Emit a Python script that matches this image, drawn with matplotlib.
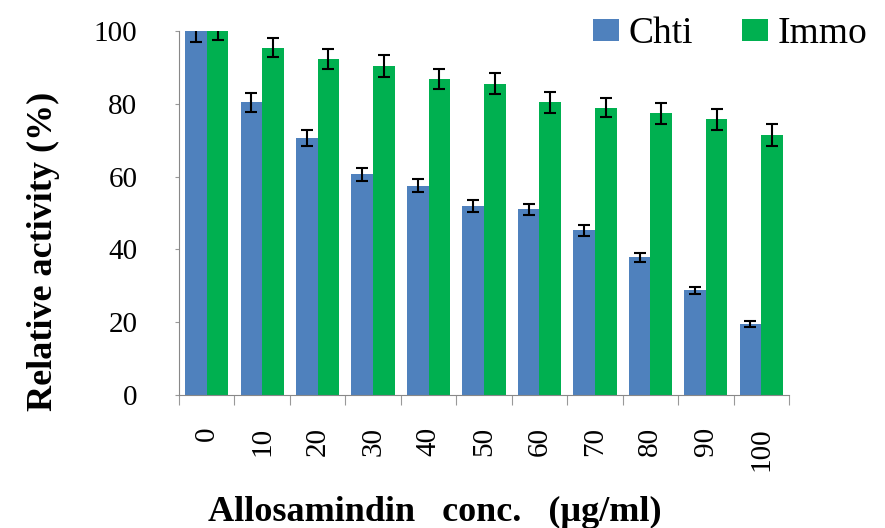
import numpy as np
import matplotlib
matplotlib.use('Agg')
import matplotlib.pyplot as plt

plt.rcParams['font.family'] = ['Liberation Serif', 'DejaVu Serif']

conc = ['0', '10', '20', '30', '40', '50', '60', '70', '80', '90', '100']
chti = [100, 80.5, 70.5, 60.6, 57.5, 52.0, 51.0, 45.3, 37.8, 28.8, 19.6]
chti_err = [3.0, 2.6, 2.2, 1.8, 1.8, 1.6, 1.5, 1.5, 1.2, 1.0, 0.8]
immo = [100, 95.5, 92.3, 90.4, 86.8, 85.6, 80.5, 79.0, 77.4, 75.8, 71.4]
immo_err = [2.5, 2.7, 2.7, 3.0, 2.7, 2.9, 2.9, 2.7, 2.9, 2.9, 3.0]

fig = plt.figure(figsize=(8.85, 5.28), dpi=100)
ax = fig.add_axes([0.2023, 0.252, 0.6892, 0.689])

x = np.arange(len(conc))
w = 0.39
err_kw = dict(ecolor='black', elinewidth=1.5, capsize=4, capthick=1.5)
ax.bar(x - w / 2, chti, w, color='#4F81BD', yerr=chti_err, error_kw=err_kw, label='Chti')
ax.bar(x + w / 2, immo, w, color='#00B050', yerr=immo_err, error_kw=err_kw, label='Immo')

ax.set_xlim(-0.5, len(conc) - 0.5)
ax.set_ylim(0, 100)
ax.set_yticks([0, 20, 40, 60, 80, 100])

# boundary ticks (major) and centred labels (minor)
ax.set_xticks(np.arange(len(conc) + 1) - 0.5)
ax.set_xticklabels([])
ax.set_xticks(x, minor=True)
ax.set_xticklabels(conc, minor=True, rotation=90, fontsize=21)
ax.tick_params(axis='x', which='major', length=7, color='#999999', direction='out')
ax.tick_params(axis='x', which='minor', length=0, pad=23)
ax.tick_params(axis='y', length=3, color='#999999', labelsize=21, pad=27)

for s in ['top', 'right']:
    ax.spines[s].set_visible(False)
for s in ['left', 'bottom']:
    ax.spines[s].set_color('#888888')

ax.set_ylabel('Relative activity (%)', fontsize=26, fontweight='bold', va='center')
ax.yaxis.set_label_coords(-0.223, 0.396)
ax.set_xlabel('Allosamindin   conc.   (\u00b5g/ml)', fontsize=26, fontweight='bold', va='center')
ax.xaxis.set_label_coords(0.42, -0.324)

ax.legend(loc='upper right', bbox_to_anchor=(0.997, 0.997), bbox_transform=fig.transFigure,
          ncol=2, frameon=False, fontsize=27, handlelength=0.7, handleheight=0.55,
          handletextpad=0.25, columnspacing=1.3, borderaxespad=0)

plt.savefig('out.png', dpi=100)
